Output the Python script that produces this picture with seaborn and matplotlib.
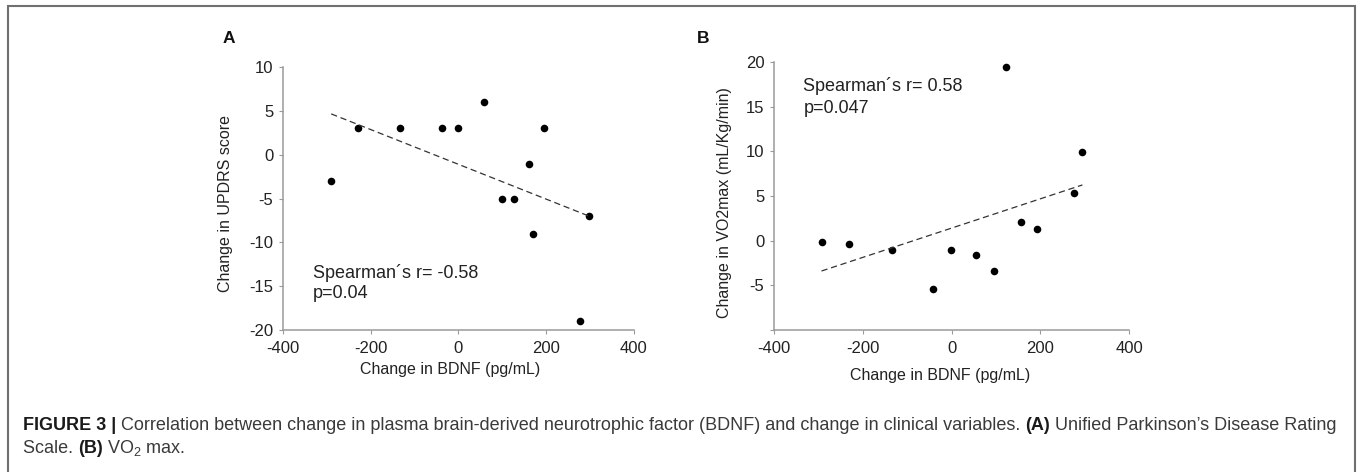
import numpy as np
import pandas as pd
import matplotlib
matplotlib.use("Agg")
import matplotlib.pyplot as plt
import seaborn as sns
from matplotlib.patches import Rectangle

# ==========================================
# DATOS
# ==========================================
bdnf_a = [-290, -230, -133, -37, 0, 58, 99, 126, 160, 196, 169, 298, 278]
updrs_a = [-3, 3, 3, 3, 3, 6, -5, -5, -1, 3, -9, -7, -19]

bdnf_b = [-293, -232, -135, -41, -2, 55, 96, 123, 157, 193, 276, 295]
vo2_b = [-0.15, -0.35, -1.1, -5.4, -1.1, -1.6, -3.4, 19.4, 2.05, 1.3, 5.3, 9.95]

xticks = [-400, -200, 0, 200, 400]
yticks_a = [-20, -15, -10, -5, 0, 5, 10]
yticks_b = [-10, -5, 0, 5, 10, 15, 20]
yticklabels_b = ['', '-5', '0', '5', '10', '15', '20']

df_a = pd.DataFrame({'bdnf': bdnf_a, 'updrs': updrs_a})
df_b = pd.DataFrame({'bdnf': bdnf_b, 'vo2': vo2_b})

# Estilo
sns.set_style("ticks")
plt.rcParams['font.family'] = ['Liberation Sans', 'DejaVu Sans']
plt.rcParams['axes.unicode_minus'] = False

AXIS_GRAY = '#9a9a9a'
TEXT_COL = '#222222'

fig = plt.figure(figsize=(13.57, 4.72), dpi=100)
ax1 = fig.add_axes([0.2085, 0.3008, 0.2587, 0.557])
ax2 = fig.add_axes([0.5704, 0.3008, 0.2616, 0.568])


def style_axis(ax):
    sns.despine(ax=ax)
    for s in ['left', 'bottom']:
        ax.spines[s].set_color(AXIS_GRAY)
        ax.spines[s].set_linewidth(1.1)
    ax.tick_params(axis='both', direction='out', length=3, width=0.8,
                   color=AXIS_GRAY, labelcolor=TEXT_COL, labelsize=12)
    ax.tick_params(axis='x', pad=5)
    ax.tick_params(axis='y', pad=4)


def scatter_fit(ax, data, x, y):
    sns.regplot(data=data, x=x, y=y, ax=ax, ci=None, color='black',
                scatter_kws=dict(s=30, linewidths=0, alpha=1),
                line_kws=dict(color='#333333', lw=0.9, dashes=(5, 3)))


# --- PANEL A ---
scatter_fit(ax1, df_a, 'bdnf', 'updrs')
style_axis(ax1)
ax1.set_xlim(-400, 400)
ax1.set_ylim(-20, 10)
ax1.set_xticks(xticks)
ax1.set_yticks(yticks_a)
ax1.set_xlabel("Change in BDNF (pg/mL)", fontsize=11.5, color=TEXT_COL)
ax1.set_ylabel("Change in UPDRS score", fontsize=11.5, color=TEXT_COL)
ax1.xaxis.set_label_coords(0.477, -0.12)
ax1.xaxis.label.set_va('top')
ax1.yaxis.set_label_coords(-0.143, 0.48)
ax1.text(0.0855, 0.197, "Spearman´s r= -0.58", transform=ax1.transAxes,
         fontsize=13, color=TEXT_COL, va='baseline')
ax1.text(0.0855, 0.122, "p=0.04", transform=ax1.transAxes,
         fontsize=13, color=TEXT_COL, va='baseline')

# --- PANEL B ---
scatter_fit(ax2, df_b, 'bdnf', 'vo2')
style_axis(ax2)
ax2.set_xlim(-400, 400)
ax2.set_ylim(-10, 20)
ax2.set_xticks(xticks)
ax2.set_yticks(yticks_b)
ax2.set_yticklabels(yticklabels_b)
ax2.set_xlabel("Change in BDNF (pg/mL)", fontsize=11.5, color=TEXT_COL)
ax2.set_ylabel("Change in VO2max (mL/Kg/min)", fontsize=11.5, color=TEXT_COL)
ax2.xaxis.set_label_coords(0.468, -0.143)
ax2.xaxis.label.set_va('top')
ax2.yaxis.set_label_coords(-0.119, 0.475)
ax2.text(0.0825, 0.892, "Spearman´s r= 0.58", transform=ax2.transAxes,
         fontsize=13, color=TEXT_COL, va='baseline')
ax2.text(0.0825, 0.81, "p=0.047", transform=ax2.transAxes,
         fontsize=13, color=TEXT_COL, va='baseline')

# Letras de panel
fig.text(223 / 1357, 1 - 43.3 / 472, "A", fontsize=12.5, fontweight='bold',
         color='#111111', va='baseline')
fig.text(697 / 1357, 1 - 42.7 / 472, "B", fontsize=12.5, fontweight='bold',
         color='#111111', va='baseline')

# Marco
fig.patches.append(Rectangle((8 / 1357, -0.1), (1355 - 8) / 1357, 1.1 - 6 / 472,
                             transform=fig.transFigure, fill=False,
                             edgecolor='#707070', lw=1.5))

# ==========================================
# PIE DE FIGURA (segmentos encadenados)
# ==========================================
renderer = fig.canvas.get_renderer()
W, H = fig.bbox.width, fig.bbox.height
CAP_SIZE = 13
CAP_COL = '#3a3a3a'


def caption_line(segments, x0, y0):
    x = x0
    for txt, bold, dy, size in segments:
        t = fig.text(x / W, (y0 + dy) / H, txt, fontsize=size,
                     fontweight='bold' if bold else 'normal',
                     color='#1a1a1a' if bold else CAP_COL, va='baseline')
        x += t.get_window_extent(renderer).width
    return x


line1 = [
    ("FIGURE 3 |", True, 0, CAP_SIZE),
    (" Correlation between change in plasma brain-derived neurotrophic factor (BDNF) and change in clinical variables. ", False, 0, CAP_SIZE),
    ("(A)", True, 0, CAP_SIZE),
    (" Unified Parkinson\u2019s Disease Rating", False, 0, CAP_SIZE),
]
line2 = [
    ("Scale. ", False, 0, CAP_SIZE),
    ("(B)", True, 0, CAP_SIZE),
    (" VO", False, 0, CAP_SIZE),
    ("2", False, -3.5, CAP_SIZE * 0.7),
    (" max.", False, 0, CAP_SIZE),
]
caption_line(line1, 23, H - 430)
caption_line(line2, 23, H - 453)

fig.savefig('out.png', dpi=100)
plt.close(fig)
